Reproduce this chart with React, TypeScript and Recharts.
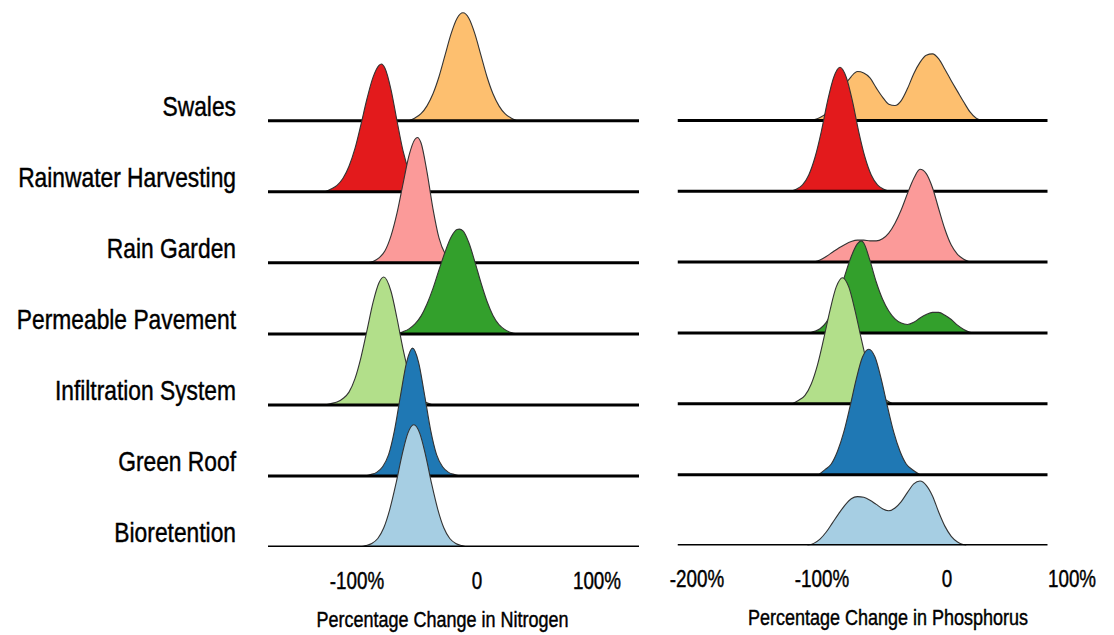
import React from 'react';
import { ComposedChart, Area, XAxis, YAxis, Label } from 'recharts';

const categories = [
  'Swales',
  'Rainwater Harvesting',
  'Rain Garden',
  'Permeable Pavement',
  'Infiltration System',
  'Green Roof',
  'Bioretention',
];
const colors = ['#fdbf6f', '#e31a1c', '#fb9a99', '#33a02c', '#b2df8a', '#1f78b4', '#a6cee3'];

// density curves: [percentage change, height], height 1 = gap between two ridges
const swalesN = [[-60, 0], [-55, 0.04], [-50, 0.1], [-45, 0.21], [-40, 0.38], [-35, 0.62], [-30, 0.92], [-25, 1.22], [-20, 1.44], [-15, 1.52], [-10, 1.44], [-5, 1.22], [0, 0.92], [5, 0.62], [10, 0.38], [15, 0.21], [20, 0.1], [25, 0.04], [30, 0]];
const rainwaterN = [[-130, 0], [-125, 0.04], [-120, 0.09], [-115, 0.19], [-110, 0.36], [-105, 0.61], [-100, 0.95], [-95, 1.31], [-90, 1.61], [-85, 1.78], [-83, 1.8], [-80, 1.74], [-75, 1.44], [-70, 1.0], [-65, 0.58], [-60, 0.29], [-55, 0.12], [-50, 0.04], [-45, 0]];
const rainGardenN = [[-95, 0], [-90, 0.02], [-85, 0.07], [-80, 0.17], [-75, 0.38], [-70, 0.7], [-65, 1.11], [-60, 1.51], [-55, 1.74], [-53, 1.765], [-50, 1.69], [-45, 1.28], [-40, 0.76], [-35, 0.35], [-30, 0.13], [-25, 0.04], [-20, 0]];
const permeableN = [[-70, 0], [-65, 0.03], [-60, 0.07], [-55, 0.14], [-50, 0.25], [-45, 0.42], [-40, 0.64], [-35, 0.9], [-30, 1.15], [-25, 1.36], [-20, 1.47], [-18, 1.475], [-15, 1.45], [-10, 1.28], [-5, 1.01], [0, 0.72], [5, 0.46], [10, 0.26], [15, 0.13], [20, 0.06], [25, 0.02], [30, 0]];
const infiltrationN = [[-130, 0], [-125, 0.02], [-120, 0.04], [-115, 0.09], [-110, 0.18], [-105, 0.37], [-100, 0.67], [-95, 1.05], [-90, 1.44], [-85, 1.72], [-81, 1.8], [-75, 1.6], [-70, 1.22], [-65, 0.79], [-60, 0.44], [-55, 0.21], [-50, 0.08], [-45, 0.03], [-40, 0]];
const greenRoofN = [[-97, 0], [-92, 0.02], [-87, 0.05], [-82, 0.13], [-77, 0.3], [-72, 0.65], [-67, 1.14], [-62, 1.6], [-57, 1.8], [-52, 1.6], [-47, 1.14], [-42, 0.65], [-37, 0.3], [-32, 0.13], [-27, 0.05], [-22, 0.02], [-17, 0]];
const bioretentionN = [[-101, 0], [-96, 0.02], [-91, 0.05], [-86, 0.12], [-81, 0.27], [-76, 0.53], [-71, 0.88], [-66, 1.28], [-61, 1.6], [-56, 1.72], [-51, 1.6], [-46, 1.28], [-41, 0.88], [-36, 0.53], [-31, 0.27], [-26, 0.12], [-21, 0.05], [-16, 0.02], [-11, 0]];

const swalesP = [[-110, 0], [-105, 0.01], [-100, 0.04], [-95, 0.1], [-90, 0.2], [-85, 0.34], [-80, 0.5], [-75, 0.62], [-70, 0.69], [-65, 0.67], [-60, 0.6], [-55, 0.46], [-50, 0.33], [-45, 0.23], [-40, 0.21], [-35, 0.28], [-30, 0.45], [-25, 0.66], [-20, 0.82], [-15, 0.92], [-10, 0.94], [-5, 0.87], [0, 0.72], [5, 0.56], [10, 0.41], [15, 0.26], [20, 0.12], [25, 0.03], [30, 0]];
const rainwaterP = [[-124, 0], [-119, 0.03], [-114, 0.09], [-109, 0.23], [-104, 0.48], [-99, 0.84], [-94, 1.27], [-89, 1.61], [-84, 1.75], [-79, 1.61], [-74, 1.27], [-69, 0.84], [-64, 0.48], [-59, 0.23], [-54, 0.09], [-49, 0.03], [-44, 0]];
const rainGardenP = [[-105, 0], [-100, 0.03], [-95, 0.08], [-90, 0.14], [-85, 0.2], [-80, 0.25], [-75, 0.29], [-70, 0.31], [-65, 0.31], [-60, 0.3], [-55, 0.3], [-50, 0.33], [-45, 0.41], [-40, 0.55], [-35, 0.74], [-30, 0.97], [-25, 1.18], [-20, 1.31], [-15, 1.25], [-10, 1.05], [-5, 0.75], [0, 0.46], [5, 0.24], [10, 0.11], [15, 0.04], [20, 0]];
const permeableP = [[-108, 0], [-105, 0.02], [-100, 0.06], [-95, 0.15], [-90, 0.31], [-85, 0.54], [-80, 0.82], [-75, 1.08], [-70, 1.26], [-67, 1.3], [-65, 1.27], [-60, 1.02], [-55, 0.72], [-50, 0.48], [-45, 0.31], [-40, 0.2], [-35, 0.14], [-30, 0.12], [-25, 0.15], [-20, 0.21], [-15, 0.26], [-10, 0.29], [-5, 0.29], [0, 0.25], [5, 0.19], [10, 0.11], [15, 0.05], [20, 0.01], [22, 0]];
const infiltrationP = [[-122, 0], [-117, 0.05], [-112, 0.12], [-107, 0.28], [-102, 0.55], [-97, 0.92], [-92, 1.32], [-87, 1.65], [-82, 1.78], [-77, 1.65], [-72, 1.32], [-67, 0.92], [-62, 0.55], [-57, 0.28], [-52, 0.12], [-47, 0.05], [-42, 0]];
const greenRoofP = [[-101, 0], [-96, 0.07], [-91, 0.15], [-86, 0.33], [-81, 0.6], [-76, 0.96], [-71, 1.35], [-66, 1.66], [-61, 1.77], [-56, 1.66], [-51, 1.35], [-46, 0.96], [-41, 0.6], [-36, 0.33], [-31, 0.15], [-26, 0.07], [-20, 0]];
const bioretentionP = [[-110, 0], [-105, 0.03], [-100, 0.09], [-95, 0.19], [-90, 0.32], [-85, 0.45], [-80, 0.57], [-75, 0.66], [-70, 0.69], [-65, 0.68], [-60, 0.64], [-55, 0.58], [-50, 0.52], [-45, 0.49], [-40, 0.53], [-35, 0.62], [-30, 0.75], [-25, 0.87], [-20, 0.91], [-15, 0.85], [-10, 0.7], [-5, 0.47], [0, 0.27], [5, 0.13], [10, 0.05], [15, 0.01], [17, 0]];

const nitrogenCurves = [swalesN, rainwaterN, rainGardenN, permeableN, infiltrationN, greenRoofN, bioretentionN];
const phosphorusCurves = [swalesP, rainwaterP, rainGardenP, permeableP, infiltrationP, greenRoofP, bioretentionP];

const nitrogenTicks = [-100, 0, 100];
const phosphorusTicks = [-200, -100, 0, 100];
const nitrogenDomain = [-177.5, 131.7];
const nitrogenLine = [-177.5, 131.7];
const phosphorusDomain = [-214, 110];
const phosphorusLine = [-214, 82];

const ROWS = categories.length;
const Y_DOMAIN = [0, 7.7];
const rowTicks = categories.map((_, i) => i);
const pct = (v: number) => (v === 0 ? '0' : `${v}%`);

// no condensed face installed, so squeeze a normal sans horizontally
const NarrowText = ({ x, y, text, size, anchor }: any) => (
  <text
    transform={`translate(${x},${y}) scale(0.8,1)`}
    textAnchor={anchor}
    fontSize={size}
    fontFamily="'Liberation Sans', Arial, sans-serif"
    fill="#000"
    stroke="#000"
    strokeWidth={0.45}
  >
    {text}
  </text>
);

const CategoryTick = (props: any) => (
  <NarrowText x={props.x - 32} y={props.y - 5} text={categories[ROWS - 1 - props.payload.value]} size={28.5} anchor="end" />
);

const PctTick = (dx: number, dy: number) => (props: any) => (
  <NarrowText x={props.x + dx} y={props.y + dy} text={pct(props.payload.value)} size={23.5} anchor="middle" />
);

const axisTitle = (text: string, dx: number, dy: number) => ({ viewBox }: any) => (
  <NarrowText x={viewBox.x + viewBox.width / 2 + dx} y={viewBox.y + dy} text={text} size={22.5} anchor="middle" />
);

// top ridge first, so each lower ridge is painted over the line above it
function ridges(curves: number[][][], extent: number[]) {
  return curves.flatMap((curve, i) => {
    const base = ROWS - 1 - i;
    const pts = curve.map(([x, d]) => ({ x, d }));
    return [
      <Area
        key={`ridge-${i}`}
        data={pts}
        dataKey={(p: any) => base + p.d}
        baseValue={base}
        type="monotone"
        fill={colors[i]}
        fillOpacity={1}
        stroke="#333"
        strokeWidth={1.1}
        isAnimationActive={false}
      />,
      <Area
        key={`base-${i}`}
        data={extent.map((x) => ({ x }))}
        dataKey={() => base}
        baseValue={base}
        type="linear"
        fill="none"
        stroke="#000"
        strokeWidth={3}
        isAnimationActive={false}
      />,
    ];
  });
}

const App: React.FC = () => {
  return (
    <div style={{ position: 'absolute', left: 0, top: 0, width: 1114, height: 635, background: '#fff' }}>
      <div style={{ position: 'absolute', left: 0, top: 0 }}>
        <ComposedChart width={660} height={635} margin={{ top: 0, right: 21, left: 0, bottom: 0 }}>
          <XAxis
            type="number"
            dataKey="x"
            domain={nitrogenDomain}
            allowDataOverflow
            ticks={nitrogenTicks}
            interval={0}
            axisLine={false}
            tickLine={false}
            tickSize={0}
            tickMargin={0}
            height={88}
            tick={PctTick(-4, 42)}
          >
            <Label content={axisTitle('Percentage Change in Nitrogen', -11, 80)} />
          </XAxis>
          <YAxis
            type="number"
            domain={Y_DOMAIN}
            allowDataOverflow
            ticks={rowTicks}
            interval={0}
            width={268}
            axisLine={false}
            tickLine={false}
            tickSize={0}
            tickMargin={0}
            tick={CategoryTick}
          />
          {ridges(nitrogenCurves, nitrogenLine)}
        </ComposedChart>
      </div>
      <div style={{ position: 'absolute', left: 660, top: 0 }}>
        <ComposedChart width={454} height={635} margin={{ top: 0, right: 31.5, left: 17.5, bottom: 0 }}>
          <XAxis
            type="number"
            dataKey="x"
            domain={phosphorusDomain}
            allowDataOverflow
            ticks={phosphorusTicks}
            interval={0}
            axisLine={false}
            tickLine={false}
            tickSize={0}
            tickMargin={0}
            height={89.5}
            tick={PctTick(2, 41.5)}
          >
            <Label content={axisTitle('Percentage Change in Phosphorus', 8, 79.5)} />
          </XAxis>
          <YAxis type="number" domain={Y_DOMAIN} allowDataOverflow hide />
          {ridges(phosphorusCurves, phosphorusLine)}
        </ComposedChart>
      </div>
    </div>
  );
};

export default App;
